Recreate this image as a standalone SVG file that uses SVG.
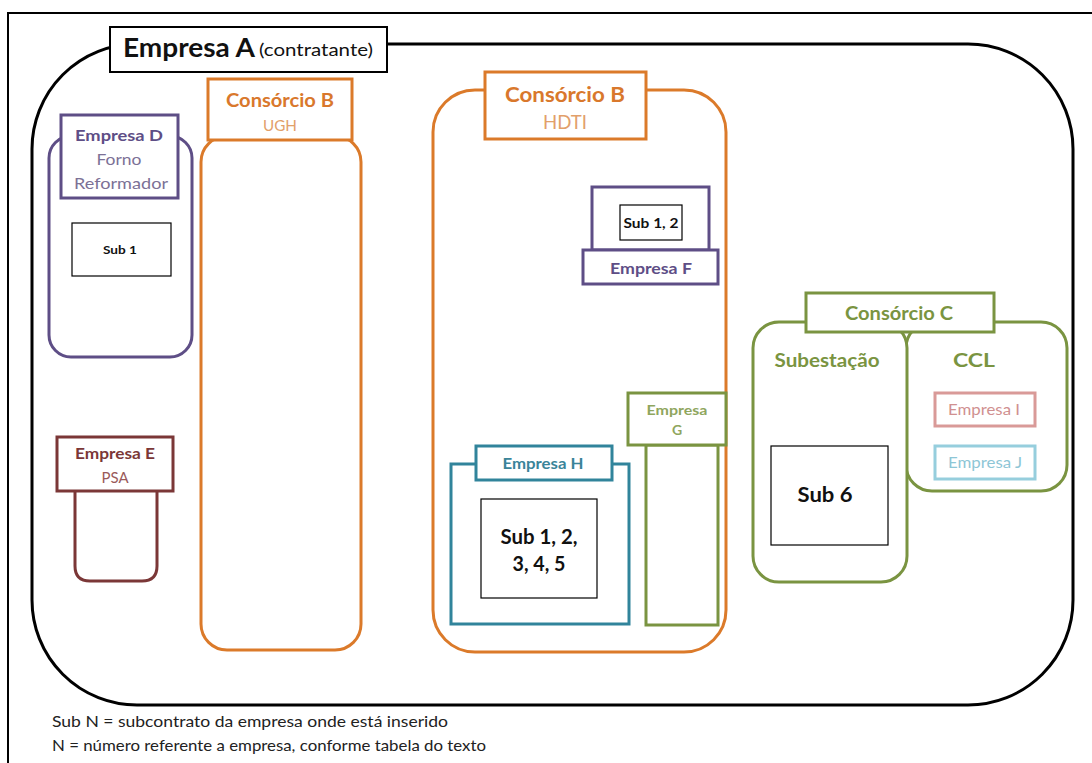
<svg xmlns="http://www.w3.org/2000/svg" width="1092" height="763" viewBox="0 0 1092 763">
  <style>
    text { font-family: Lato, "Open Sans", "Liberation Sans", sans-serif; text-anchor: middle; }
    .b { font-weight: bold; }
    .box { fill: #fff; stroke-width: 3; }
    .open { fill: none; stroke-width: 3; }
    .sub { fill: #fff; stroke: #000; stroke-width: 1.2; }
    .orange { stroke: #DB7A2A; }
    .purple { stroke: #5E4E86; }
    .maroon { stroke: #7B3737; }
    .teal { stroke: #31849B; }
    .green { stroke: #7A9441; }
    .tOrange { fill: #D9782C; }
    .tOrangeL { fill: #E2A06A; }
    .tPurple { fill: #5E4E86; }
    .tPurpleL { fill: #7C7196; }
    .tMaroon { fill: #7B3737; }
    .tMaroonL { fill: #9A5A5A; }
    .tTeal { fill: #3A8499; }
    .tGreen { fill: #7A9441; }
    .tGreenL { fill: #8FA65E; }
  </style>

  <rect width="1092" height="763" fill="#fff"/>
  <!-- page frame -->
  <path d="M8,763 V13 H1092" fill="none" stroke="#000" stroke-width="2"/>

  <!-- Empresa A (contractor) -->
  <g id="empresa-a">
    <rect x="32" y="44" width="1041" height="661" rx="105" ry="105" fill="none" stroke="#000" stroke-width="3"/>
    <rect x="110" y="27" width="277" height="45" fill="#fff" stroke="#000" stroke-width="2"/>
    <text x="123" y="57" class="b" font-size="26" fill="#111" style="text-anchor:start" textLength="132" lengthAdjust="spacingAndGlyphs">Empresa A</text>
    <text x="259" y="56" font-size="18" fill="#111" style="text-anchor:start" textLength="114" lengthAdjust="spacingAndGlyphs">(contratante)</text>
  </g>

  <!-- Empresa D -->
  <g id="empresa-d">
    <rect x="49" y="136" width="143" height="221" rx="22" class="box purple"/>
    <rect x="61" y="115" width="117" height="83" class="box purple" stroke-width="2.5"/>
    <text x="119" y="141" class="b tPurple" font-size="16" textLength="88" lengthAdjust="spacingAndGlyphs">Empresa D</text>
    <text x="119" y="165" class="tPurpleL" font-size="16" textLength="45" lengthAdjust="spacingAndGlyphs">Forno</text>
    <text x="121" y="189" class="tPurpleL" font-size="16" textLength="94" lengthAdjust="spacingAndGlyphs">Reformador</text>
    <rect x="72" y="223" width="99" height="53" class="sub"/>
    <text x="120" y="254" class="b" font-size="12" fill="#111" textLength="34" lengthAdjust="spacingAndGlyphs">Sub 1</text>
  </g>

  <!-- Empresa E -->
  <g id="empresa-e">
    <path d="M75,491 V566 Q75,581 90,581 H142 Q157,581 157,566 V491" class="open maroon"/>
    <rect x="57" y="437" width="116" height="54" class="box maroon" stroke-width="2.5"/>
    <text x="115" y="459" class="b tMaroon" font-size="15" textLength="80" lengthAdjust="spacingAndGlyphs">Empresa E</text>
    <text x="115" y="483" class="tMaroonL" font-size="15" textLength="27" lengthAdjust="spacingAndGlyphs">PSA</text>
  </g>

  <!-- Consórcio B - UGH -->
  <g id="consorcio-b-ugh">
    <rect x="201" y="136" width="160" height="514" rx="26" class="box orange"/>
    <rect x="208" y="79" width="144" height="61" class="box orange" stroke-width="2.5"/>
    <text x="280" y="107" class="b tOrange" font-size="19" textLength="108" lengthAdjust="spacingAndGlyphs">Consórcio B</text>
    <text x="280" y="131" class="tOrangeL" font-size="16" textLength="34" lengthAdjust="spacingAndGlyphs">UGH</text>
  </g>

  <!-- Consórcio B - HDTI -->
  <g id="consorcio-b-hdti">
    <rect x="433" y="90" width="293" height="562" rx="42" class="box orange"/>
    <rect x="485" y="72" width="161" height="67" class="box orange" stroke-width="2.5"/>
    <text x="565" y="102" class="b tOrange" font-size="21" textLength="120" lengthAdjust="spacingAndGlyphs">Consórcio B</text>
    <text x="565" y="129" class="tOrangeL" font-size="19" textLength="44" lengthAdjust="spacingAndGlyphs">HDTI</text>
  </g>

  <!-- Empresa F -->
  <g id="empresa-f">
    <rect x="592" y="187" width="117" height="63" class="box purple"/>
    <rect x="583" y="250" width="135" height="34" class="box purple"/>
    <text x="651" y="274" class="b tPurple" font-size="15" textLength="82" lengthAdjust="spacingAndGlyphs">Empresa F</text>
    <rect x="620" y="205" width="62" height="35" class="sub"/>
    <text x="651" y="228" class="b" font-size="13" fill="#111" textLength="55" lengthAdjust="spacingAndGlyphs">Sub 1, 2</text>
  </g>

  <!-- Empresa G -->
  <g id="empresa-g">
    <rect x="646" y="445" width="72" height="180" class="box green"/>
    <rect x="628" y="393" width="98" height="52" class="box green"/>
    <text x="677" y="415" class="b tGreenL" font-size="14" textLength="61" lengthAdjust="spacingAndGlyphs">Empresa</text>
    <text x="677" y="435" class="b tGreenL" font-size="14">G</text>
  </g>

  <!-- Empresa H -->
  <g id="empresa-h">
    <rect x="451" y="464" width="178" height="160" class="box teal"/>
    <rect x="476" y="446" width="136" height="34" class="box teal"/>
    <text x="543" y="469" class="b tTeal" font-size="16" textLength="81" lengthAdjust="spacingAndGlyphs">Empresa H</text>
    <rect x="481" y="499" width="116" height="99" class="sub"/>
    <text x="539" y="544" class="b" font-size="21" fill="#111" textLength="77" lengthAdjust="spacingAndGlyphs">Sub 1, 2,</text>
    <text x="539" y="571" class="b" font-size="21" fill="#111" textLength="53" lengthAdjust="spacingAndGlyphs">3, 4, 5</text>
  </g>

  <!-- Consórcio C -->
  <g id="consorcio-c">
    <rect x="906" y="322" width="161" height="169" rx="26" class="box green"/>
    <rect x="753" y="322" width="154" height="260" rx="26" class="box green"/>
    <rect x="806" y="293" width="188" height="39" class="box green" stroke-width="2.5"/>
    <text x="899" y="320" class="b tGreen" font-size="19" textLength="108" lengthAdjust="spacingAndGlyphs">Consórcio C</text>
    <text x="827" y="367" class="b tGreen" font-size="19" textLength="105" lengthAdjust="spacingAndGlyphs">Subestação</text>
    <text x="974" y="367" class="b tGreen" font-size="19" textLength="42" lengthAdjust="spacingAndGlyphs">CCL</text>
  </g>

  <!-- Sub 6 -->
  <g id="sub-6">
    <rect x="771" y="446" width="117" height="99" class="sub"/>
    <text x="825" y="502" class="b" font-size="20" fill="#111" textLength="55" lengthAdjust="spacingAndGlyphs">Sub 6</text>
  </g>

  <!-- Empresa I -->
  <g id="empresa-i">
    <rect x="935" y="393" width="100" height="33" fill="#fff" stroke="#D99A98" stroke-width="3"/>
    <text x="984" y="415" font-size="15" fill="#D09090" textLength="72" lengthAdjust="spacingAndGlyphs">Empresa I</text>
  </g>

  <!-- Empresa J -->
  <g id="empresa-j">
    <rect x="935" y="446" width="100" height="33" fill="#fff" stroke="#96CEDD" stroke-width="3"/>
    <text x="985" y="468" font-size="15" fill="#8EC6D6" textLength="74" lengthAdjust="spacingAndGlyphs">Empresa J</text>
  </g>

  <!-- legend -->
  <g id="legenda" font-size="15" fill="#222">
    <text x="52" y="727" style="text-anchor:start" textLength="396" lengthAdjust="spacingAndGlyphs">Sub N = subcontrato da empresa onde está inserido</text>
    <text x="52" y="751" style="text-anchor:start" textLength="434" lengthAdjust="spacingAndGlyphs">N = número referente a empresa, conforme tabela do texto</text>
  </g>

  <g id="connectors"/>
</svg>
